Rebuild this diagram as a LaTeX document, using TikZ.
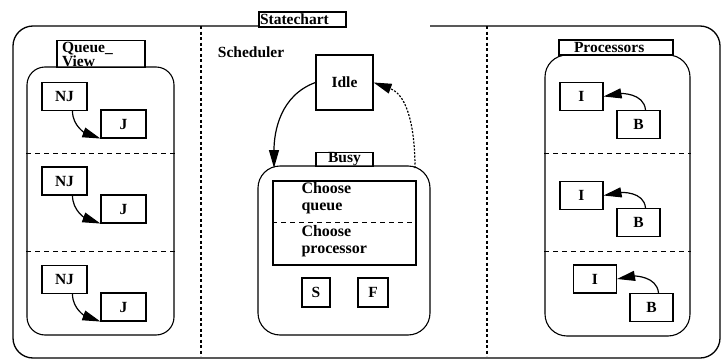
\documentclass[tikz,border=0pt]{standalone}
\usepackage{fontspec}
\setmainfont{Liberation Serif}
\usetikzlibrary{arrows.meta}

\begin{document}
\begin{tikzpicture}[
  x=1pt, y=-1pt,
  font=\fontsize{15.5}{15}\selectfont\bfseries,
  line width=1.1pt,
  state/.style={rectangle, draw, inner sep=0pt, minimum width=45pt, minimum height=28pt},
  tab/.style={rectangle, draw, inner sep=0pt, minimum height=15pt},
  region/.style={rectangle, draw, rounded corners=20pt, inner sep=0pt},
  part/.style={dash pattern=on 5pt off 4pt, line width=1pt},
  split/.style={dash pattern=on 3pt off 2.5pt, line width=1.1pt},
  trans/.style={-{Triangle[length=18pt,width=10pt]}, line width=1.2pt},
  dotback/.style={trans, dash pattern=on 2pt off 1.5pt}
]
\useasboundingbox (0,0) rectangle (721,359);

\node[tab, minimum width=87pt, text width=85pt, align=left] (sc) at (302.5,19.5) {Statechart};
\draw[line width=1.3pt, rounded corners=20pt] (430,26) -- (720,26) -- (720,358) -- (13,358) -- (13,26) -- (sc.south west |- 0,26);
\draw[split] (201,26) -- (201,356);
\draw[split] (487,26) -- (487,356);

% queue view
\node[region, rounded corners=18pt, minimum width=147pt, minimum height=268pt] (qvbox) at (100.5,201) {};
\node[tab, minimum width=88pt, minimum height=27pt, text width=78pt, align=left,
      font=\fontsize{15.5}{14}\selectfont\bfseries] (qvtab) at (101,54) {Queue\_\\View};
\draw[part] (qvbox.west |- 0,153) -- (qvbox.east |- 0,153);
\draw[part] (qvbox.west |- 0,251) -- (qvbox.east |- 0,251);
\node[state] (nj1) at (64.5,96.5)  {NJ};
\node[state] (j1)  at (123.5,124)  {J};
\node[state] (nj2) at (64.5,181)   {NJ};
\node[state] (j2)  at (123.5,209)  {J};
\node[state] (nj3) at (64.5,279.5) {NJ};
\node[state] (j3)  at (123.5,307)  {J};
\draw[trans] ([xshift=8pt]nj1.south) to[out=-90,in=160] (j1.south west);
\draw[trans] ([xshift=8pt]nj2.south) to[out=-90,in=160] (j2.south west);
\draw[trans] ([xshift=8pt]nj3.south) to[out=-90,in=160] (j3.south west);

% scheduler
\node[anchor=west] (sched) at (214,52) {Scheduler};
\node[state, minimum width=57pt, minimum height=55pt] (idle) at (344.5,82.5) {Idle};
\node[region, rounded corners=22pt, minimum width=172pt, minimum height=169pt] (busybox) at (344,250.5) {};
\node[tab, minimum width=57pt, minimum height=13pt] (busy) at (344.5,159.5) {Busy};
\node[state, minimum width=143pt, minimum height=84pt] (choose) at (344.5,223) {};
\draw[part] (choose.west |- 0,222) -- (choose.east |- 0,222);
\node[anchor=west, align=left, inner sep=0pt, font=\fontsize{16}{16.5}\selectfont\bfseries] (chq) at (301,198) {Choose\\queue};
\node[anchor=west, align=left, inner sep=0pt, font=\fontsize{16}{16.5}\selectfont\bfseries] (chp) at (301,241) {Choose\\processor};
\node[state, minimum width=28pt, minimum height=29pt] (s) at (316,292.5) {S};
\node[state, minimum width=30pt, minimum height=29pt] (f) at (373,292.5) {F};
\coordinate (busyin)  at (274,168);
\coordinate (busyout) at (415,168);
\draw[trans] (idle.west) to[out=200,in=90] (busyin);
\draw[dotback] (busyout) to[out=90,in=-20] (idle.east);

% processors
\node[region, rounded corners=22pt, minimum width=145pt, minimum height=281pt] (procbox) at (617.5,195.5) {};
\node[tab, minimum width=114pt, text width=84pt, align=left] (proc) at (616,47.5) {Processors};
\draw[part] (procbox.west |- 0,153) -- (procbox.east |- 0,153);
\draw[part] (procbox.west |- 0,251) -- (procbox.east |- 0,251);
\node[state, minimum width=43pt] (i1) at (581.5,96.5) {I};
\node[state, minimum width=43pt] (b1) at (638.5,124.5) {B};
\node[state, minimum width=43pt] (i2) at (581.5,195.5) {I};
\node[state, minimum width=43pt] (b2) at (638.5,222.5) {B};
\node[state, minimum width=43pt] (i3) at (595,279) {I};
\node[state, minimum width=43pt] (b3) at (651.5,307.5) {B};
\draw[trans] ([xshift=7pt]b1.north) to[out=95,in=10] (i1.east);
\draw[trans] ([xshift=7pt]b2.north) to[out=95,in=10] (i2.east);
\draw[trans] ([xshift=7pt]b3.north) to[out=95,in=10] (i3.east);
\end{tikzpicture}
\end{document}
